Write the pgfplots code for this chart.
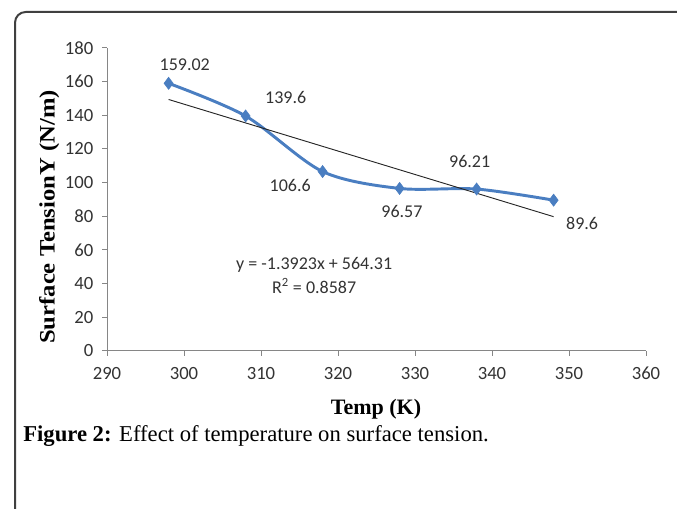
\documentclass[border=0pt]{standalone}
\usepackage{pgfplots}
\pgfplotsset{compat=1.18}
\usepackage{fontspec}
\setmainfont{Carlito}
\newfontfamily\timesf{Liberation Serif}
\definecolor{exblue}{RGB}{74,126,193}
\definecolor{axgray}{RGB}{134,134,134}
\begin{document}
\begin{tikzpicture}
% page area 677x509 px, 1 px = 0.75pt
\useasboundingbox (0,0) rectangle (507.75pt,381.75pt);
\draw[line width=1.5pt, black!75, rounded corners=8pt]
  (11.25pt,-2pt) -- (11.25pt,372.75pt) -- (510pt,372.75pt);

\begin{axis}[
    at={(80.25pt,118.5pt)}, anchor=south west,
    scale only axis,
    width=404.25pt, height=227.25pt,
    xmin=290, xmax=360, ymin=0, ymax=180,
    xtick={290,300,...,360}, ytick={0,20,...,180},
    axis x line*=bottom, axis y line*=left,
    axis line style={axgray, line width=0.75pt},
    tick style={axgray, line width=0.75pt},
    tick align=outside, major tick length=3.75pt,
    /pgf/number format/assume math mode=true,
    /pgf/number format/1000 sep={},
    tick label style={font=\fontsize{14}{16}\selectfont, black!80},
    xticklabel style={yshift=-5pt},
    yticklabel style={xshift=-3pt},
    clip=false,
]
\addplot[exblue, line width=2.2pt, smooth, tension=0.5,
    mark=diamond*, mark size=4.5pt, mark options={fill=exblue, draw=exblue, line width=0.5pt}]
  coordinates {(298,159.02) (308,139.6) (318,106.6) (328,96.57) (338,96.21) (348,89.6)};
% linear trend line y = -1.3923x + 564.31
\addplot[black!85, line width=0.7pt] coordinates {(298,149.41) (348,79.80)};

\begin{scope}[every node/.style={font=\fontsize{13.5}{15}\selectfont, black!80}]
\node at (axis cs:300.1,169.9) {159.02};
\node at (axis cs:313.2,150.3) {139.6};
\node at (axis cs:313.8,98.6) {106.6};
\node at (axis cs:328.3,82.6) {96.57};
\node at (axis cs:337.1,112.3) {96.21};
\node at (axis cs:351.7,76.0) {89.6};
\node at (axis cs:316.9,51.1) {y = -1.3923x + 564.31};
\node at (axis cs:316.9,38.5) {R\textsuperscript{2} = 0.8587};
\end{scope}
\end{axis}

% axis titles
\node[anchor=base, inner sep=0pt, font=\timesf\bfseries\fontsize{16.5}{18}\selectfont]
  at (282pt,70.5pt) {Temp (K)};
\node[rotate=90, anchor=center, inner sep=0pt]
  at (37pt,219pt) {\scalebox{1.12}[1]{\timesf\bfseries\fontsize{16.5}{18}\selectfont Surface TensionY (N/m)}};

\node[anchor=base west, inner sep=0pt, font=\timesf\fontsize{17}{20}\selectfont]
  at (17.25pt,50.25pt) {\textbf{Figure 2:} Effect of temperature on surface tension.};
\end{tikzpicture}
\end{document}
